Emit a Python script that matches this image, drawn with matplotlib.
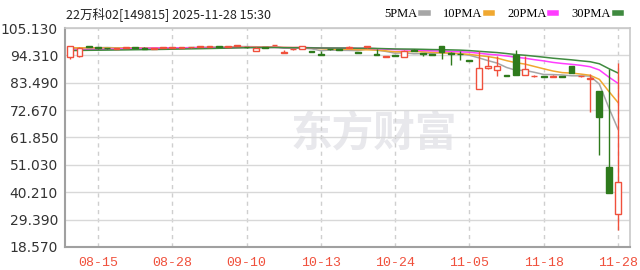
"""Daily K-line of 22万科02 with 5/10/20/30 period moving averages."""

import matplotlib

matplotlib.use("Agg")
import matplotlib.pyplot as plt
import numpy as np
import pandas as pd
from matplotlib.lines import Line2D

TITLE = "22万科02[149815] 2025-11-28 15:30"

# closes before the visible window, only used to warm up the moving averages
prior_close = [95.6, 95.9, 96.1, 95.7, 95.8, 96.0, 95.5, 95.9, 95.7, 95.8,
               95.3, 95.6, 95.4, 95.8, 95.5, 95.2, 95.7, 95.6, 95.4, 95.5,
               97.5, 97.7, 97.6, 97.4, 97.8, 96.9, 96.6, 97.0, 96.7]

opens = [93.6, 94.1, 97.8, 97.3, 97.2, 97.0, 97.2, 97.3, 97.4, 97.0,
         97.2, 97.3, 97.4, 97.5, 97.6, 97.6, 97.7, 97.6, 98.2, 97.6,
         96.2, 97.3, 98.3, 95.3, 96.7, 96.8, 96.0, 95.0, 96.8, 96.6,
         97.4, 95.6, 97.5, 95.0, 93.7, 94.4, 93.8, 96.5, 95.1, 94.7,
         97.9, 95.3, 95.0, 92.3, 81.0, 89.5, 88.6, 86.4, 94.4, 86.6,
         86.0, 86.0, 85.8, 86.0, 90.1, 86.0, 84.8, 80.2, 50.1, 31.5]
highs = [97.9, 97.5, 98.0, 97.5, 97.4, 97.3, 97.4, 97.5, 97.5, 97.3,
         97.4, 97.5, 97.6, 97.7, 97.8, 97.8, 97.8, 97.8, 98.5, 97.8,
         97.7, 97.5, 98.4, 96.4, 97.0, 98.1, 96.1, 96.2, 97.0, 96.8,
         97.9, 95.8, 98.1, 96.8, 94.0, 94.6, 96.4, 96.7, 95.4, 94.9,
         98.2, 95.6, 96.0, 92.4, 96.1, 94.0, 94.1, 86.5, 96.3, 94.1,
         86.4, 86.1, 86.6, 86.1, 90.3, 86.3, 87.1, 80.2, 88.9, 91.2]
lows = [93.0, 93.7, 97.5, 97.0, 97.0, 96.9, 97.1, 97.1, 96.9, 96.9,
        97.1, 97.2, 97.3, 97.4, 97.5, 97.5, 97.5, 97.5, 98.1, 97.4,
        96.2, 97.1, 98.3, 95.3, 96.6, 96.8, 95.7, 94.5, 96.6, 96.4,
        97.3, 95.2, 97.4, 94.3, 93.6, 94.1, 93.6, 95.9, 94.2, 94.3,
        93.0, 90.4, 92.3, 92.0, 81.0, 88.8, 86.3, 86.1, 86.4, 86.4,
        85.9, 85.7, 85.7, 85.7, 87.2, 85.9, 72.0, 54.9, 40.0, 25.3]
closes = [97.9, 97.3, 97.6, 97.2, 97.1, 97.2, 97.3, 97.2, 97.0, 97.2,
          97.3, 97.4, 97.5, 97.6, 97.6, 97.7, 97.6, 97.7, 98.4, 97.5,
          97.4, 97.2, 98.35, 95.5, 96.9, 98.0, 95.8, 94.6, 96.7, 96.5,
          97.8, 95.3, 98.0, 94.4, 93.9, 94.2, 96.2, 96.0, 94.9, 94.4,
          95.6, 95.0, 94.8, 92.1, 89.3, 90.0, 90.1, 86.2, 86.6, 88.9,
          86.3, 85.8, 86.0, 85.8, 87.3, 86.2, 85.3, 70.1, 40.0, 44.4]

# label shown under every 8th candle
date_labels = ["08-15", "08-28", "09-10", "10-13", "10-24", "11-05", "11-18", "11-28"]
label_pos = [3, 11, 19, 27, 35, 43, 51, 59]

y_ticks = [18.570, 29.390, 40.210, 51.030, 61.850, 72.670, 83.490, 94.310, 105.130]

ma_periods = [5, 10, 20, 30]
ma_names = ["5PMA", "10PMA", "20PMA", "30PMA"]
ma_colors = ["#a6a6a6", "#f0a830", "#ff3cff", "#3f8a3f"]

UP = "#f0503c"
DOWN = "#2e7a1c"


def main():
    fig = plt.figure(figsize=(6.4, 2.7), dpi=100)
    ax = fig.add_axes([65 / 640, 23 / 270, 565 / 640, 219 / 270])

    x = np.arange(len(closes))
    o, h, l, c = map(np.array, (opens, highs, lows, closes))
    up = c >= o
    width = 0.62

    # wicks
    for xi, hi, lo, is_up in zip(x, h, l, up):
        ax.plot([xi, xi], [lo, hi], color=UP if is_up else DOWN, lw=1.0,
                zorder=3, solid_capstyle="butt")
    # bodies
    bottoms = np.minimum(o, c)
    heights = np.maximum(np.abs(c - o), 0.25)
    ax.bar(x[up], heights[up], width, bottom=bottoms[up], facecolor="white",
           edgecolor=UP, linewidth=1.0, zorder=4)
    ax.bar(x[~up], heights[~up], width, bottom=bottoms[~up], facecolor=DOWN,
           edgecolor=DOWN, linewidth=1.0, zorder=4)

    # moving averages over prior + visible closes
    full = pd.Series(prior_close + closes)
    n_prior = len(prior_close)
    for p, col in zip(ma_periods, ma_colors):
        ma = full.rolling(p).mean().to_numpy()[n_prior:]
        ax.plot(x, ma, color=col, lw=1.1, zorder=2)

    ax.set_xlim(-0.55, 60.3)
    ax.set_ylim(y_ticks[0], y_ticks[-1])
    ax.set_yticks(y_ticks)
    ax.set_yticklabels([f"{v:.3f}" for v in y_ticks], fontsize=10, color="#333333")
    ax.set_xticks(label_pos)
    ax.set_xticklabels(date_labels, fontsize=9.5, color="#f0503c",
                       family="Liberation Mono")
    ax.tick_params(length=0, pad=5)
    ax.tick_params(axis="x", pad=7)

    ax.grid(axis="y", color="#d8d8d8", lw=1.0, zorder=0)
    ax.grid(axis="x", color="#cfcfcf", lw=1.0, ls=(0, (3, 3)), zorder=0)
    for side in ("top", "right"):
        ax.spines[side].set_color("#c8c8c8")
        ax.spines[side].set_linewidth(1.2)
    for side in ("left", "bottom"):
        ax.spines[side].set_color("#a0a0a0")
        ax.spines[side].set_linewidth(1.5)

    # watermark
    ax.text(374, 137, "东方财富", transform=None, fontsize=30, fontweight="bold",
            color="#e8e8ec", ha="center", va="center", zorder=1,
            family=["Noto Sans CJK SC", "DejaVu Sans"])

    fig.text(66 / 640, 1 - 14 / 270, TITLE, fontsize=9, va="center", ha="left",
             color="#222222", family=["Noto Sans CJK SC", "DejaVu Sans"])

    handles = [Line2D([], [], color=col, lw=4) for col in ma_colors]
    fig.legend(handles, ma_names, loc="center right", ncol=4, frameon=False,
               markerfirst=False, handlelength=0.5, handletextpad=0.3,
               columnspacing=1.2, borderpad=0.1, borderaxespad=0,
               bbox_to_anchor=(622 / 640, 1 - 14 / 270),
               prop={"family": "Liberation Serif", "size": 9})

    fig.savefig("out.png", dpi=100)


if __name__ == "__main__":
    main()
